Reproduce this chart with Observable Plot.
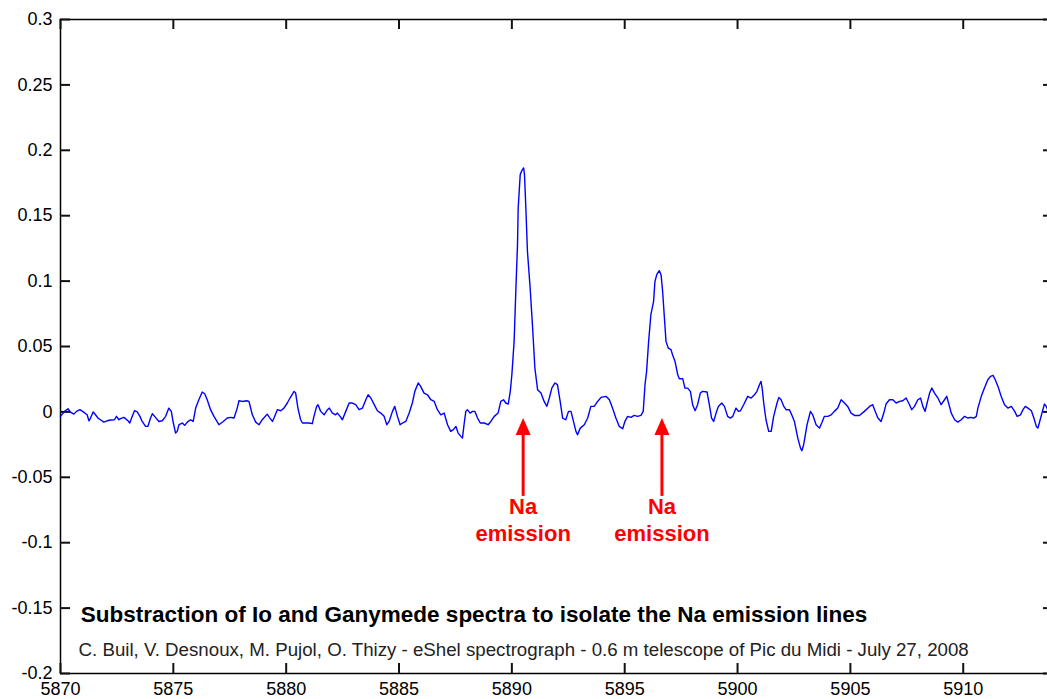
<!DOCTYPE html>
<html>
<head>
<meta charset="utf-8">
<script src="https://cdn.jsdelivr.net/npm/d3@7"></script>
<script src="https://cdn.jsdelivr.net/npm/@observablehq/plot@0.6"></script>
<style>
  html, body { margin: 0; padding: 0; background: #fff; overflow: hidden; }
  svg { display: block; }
</style>
</head>
<body>
<div id="chart"></div>
<script>
// Spectrum (wavelength in Å, relative flux)
const spectrumPart1 = [
  [5870.00,-0.0034],[5870.18,0.0004],[5870.33,0.0024],[5870.44,-0.0001],[5870.59,-0.0017],[5870.71,0.0004],
  [5870.86,0.0017],[5871.01,0.0000],[5871.18,-0.0022],[5871.26,-0.0068],[5871.33,-0.0047],[5871.45,0.0000],
  [5871.55,-0.0022],[5871.66,-0.0047],[5871.77,-0.0060],[5871.92,-0.0078],[5872.07,-0.0068],[5872.22,-0.0062],
  [5872.39,-0.0060],[5872.48,-0.0034],[5872.59,-0.0060],[5872.66,-0.0052],[5872.81,-0.0042],[5872.99,-0.0068],
  [5873.07,-0.0085],[5873.18,-0.0034],[5873.28,0.0009],[5873.40,0.0000],[5873.52,-0.0034],[5873.62,-0.0073],
  [5873.77,-0.0111],[5873.87,-0.0111],[5873.99,-0.0047],[5874.07,-0.0014],[5874.21,-0.0042],[5874.36,-0.0073],
  [5874.51,-0.0068],[5874.66,-0.0034],[5874.80,0.0029],[5874.91,0.0004],[5875.00,-0.0085],[5875.10,-0.0162],
  [5875.17,-0.0149],[5875.25,-0.0098],[5875.40,-0.0085],[5875.50,-0.0103],[5875.62,-0.0078],[5875.76,-0.0060],
  [5875.88,-0.0073],[5875.99,0.0029],[5876.13,0.0093],[5876.28,0.0152],[5876.39,0.0139],[5876.50,0.0093],
  [5876.65,0.0017],[5876.80,-0.0034],[5877.02,-0.0098],[5877.21,-0.0073],[5877.39,-0.0047],[5877.54,-0.0042],
  [5877.69,-0.0047],[5877.83,0.0029],[5877.91,0.0085],[5878.06,0.0080],[5878.25,0.0085],[5878.35,0.0080],
  [5878.50,-0.0022],[5878.65,-0.0078],[5878.80,-0.0098],[5878.94,-0.0060],[5879.16,-0.0017],[5879.28,-0.0047],
  [5879.39,-0.0073],[5879.46,-0.0047],[5879.61,0.0017],[5879.76,0.0009],[5879.90,0.0029],[5880.05,0.0068],
  [5880.17,0.0106]
];
const spectrumPart2 = [
  [5880.35,0.0157],[5880.42,0.0144],[5880.52,0.0029],[5880.64,-0.0060],[5880.72,-0.0085],[5880.86,-0.0085],
  [5881.01,-0.0085],[5881.16,-0.0090],[5881.23,-0.0034],[5881.35,0.0042],[5881.41,0.0055],[5881.53,0.0004],
  [5881.68,-0.0022],[5881.83,0.0017],[5881.91,0.0029],[5882.05,-0.0009],[5882.19,-0.0022],[5882.27,-0.0009],
  [5882.39,-0.0034],[5882.49,-0.0060],[5882.64,0.0004],[5882.79,0.0068],[5882.93,0.0068],[5883.08,0.0055],
  [5883.23,0.0017],[5883.38,0.0029],[5883.53,0.0093],[5883.63,0.0131],[5883.75,0.0106],[5883.89,0.0060],
  [5884.04,0.0009],[5884.19,-0.0009],[5884.34,-0.0034],[5884.46,-0.0098],[5884.56,-0.0073],[5884.71,0.0004],
  [5884.81,0.0042],[5884.93,-0.0034],[5885.05,-0.0098],[5885.15,-0.0085],[5885.30,-0.0073],[5885.45,-0.0009],
  [5885.59,0.0068],[5885.70,0.0157],[5885.85,0.0221],[5885.96,0.0195],[5886.11,0.0144],[5886.26,0.0131],
  [5886.41,0.0093],[5886.56,0.0080],[5886.70,0.0017],[5886.85,-0.0022],[5887.00,-0.0009],[5887.15,-0.0098],
  [5887.29,-0.0149],[5887.41,-0.0136],[5887.52,-0.0111],[5887.62,-0.0162],[5887.74,-0.0187],[5887.81,-0.0200],
  [5887.89,-0.0085],[5887.96,0.0004],[5888.03,0.0017],[5888.15,-0.0009],[5888.26,0.0004],[5888.36,0.0004],
  [5888.48,-0.0047],[5888.60,-0.0085],[5888.77,-0.0085],[5888.95,-0.0098],[5889.07,-0.0073],[5889.22,-0.0034],
  [5889.39,-0.0009],[5889.51,0.0080],[5889.63,0.0093],[5889.73,0.0068],[5889.84,0.0060],[5889.93,0.0157],
  [5890.00,0.0284],[5890.04,0.0386]
];
const spectrumPart3 = [
  [5890.10,0.0539],[5890.18,0.0947],[5890.25,0.1279],[5890.28,0.1559],[5890.37,0.1814],[5890.43,0.1840],
  [5890.52,0.1865],[5890.56,0.1814],[5890.62,0.1559],[5890.69,0.1228],[5890.81,0.0947],[5890.92,0.0641],
  [5891.02,0.0335],[5891.14,0.0170],[5891.29,0.0144],[5891.43,0.0080],[5891.55,0.0042],[5891.66,0.0106],
  [5891.77,0.0182],[5891.91,0.0221],[5892.02,0.0208],[5892.14,0.0080],[5892.25,-0.0047],[5892.39,-0.0060],
  [5892.51,0.0004],[5892.62,0.0004],[5892.73,-0.0073],[5892.84,-0.0149],[5892.91,-0.0175],[5893.03,-0.0124],
  [5893.21,-0.0098],[5893.36,-0.0047],[5893.50,0.0042],[5893.65,0.0042],[5893.80,0.0080],[5893.95,0.0111],
  [5894.17,0.0119],[5894.32,0.0093],[5894.46,0.0029],[5894.61,-0.0047],[5894.76,-0.0111],[5894.91,-0.0129],
  [5895.01,-0.0073],[5895.13,-0.0034],[5895.28,-0.0042],[5895.42,-0.0027],[5895.57,-0.0034],[5895.72,-0.0027],
  [5895.82,0.0004],[5895.90,0.0208],[5895.97,0.0310],[5896.06,0.0539],[5896.16,0.0743],[5896.28,0.0845],
  [5896.34,0.0998],[5896.43,0.1054],[5896.53,0.1080],[5896.61,0.1049],[5896.68,0.0922],[5896.75,0.0743],
  [5896.83,0.0539],[5896.93,0.0488],[5897.05,0.0476],[5897.12,0.0437],[5897.23,0.0386],[5897.35,0.0284],
  [5897.42,0.0254],[5897.57,0.0254],[5897.67,0.0182],[5897.79,0.0182],[5897.91,0.0157],[5898.01,0.0055],
  [5898.12,0.0009],[5898.23,0.0055],[5898.35,0.0144],[5898.45,0.0157],[5898.65,0.0152],[5898.75,0.0055],
  [5898.85,-0.0047],[5898.94,-0.0073],[5899.05,-0.0009],[5899.15,0.0042],[5899.30,0.0068],[5899.42,0.0042],
  [5899.56,-0.0034],[5899.68,-0.0047]
];
const spectrumPart4 = [
  [5899.79,-0.0034],[5899.93,0.0029],[5900.04,0.0004],[5900.13,0.0009],[5900.27,0.0055],[5900.45,0.0119],
  [5900.60,0.0106],[5900.75,0.0131],[5900.86,0.0157],[5900.97,0.0208],[5901.04,0.0233],[5901.09,0.0182],
  [5901.16,0.0068],[5901.26,-0.0060],[5901.38,-0.0149],[5901.49,-0.0149],[5901.60,-0.0034],[5901.75,0.0068],
  [5901.83,0.0111],[5901.93,0.0093],[5902.05,0.0042],[5902.15,0.0017],[5902.30,0.0017],[5902.40,-0.0022],
  [5902.52,-0.0073],[5902.67,-0.0200],[5902.79,-0.0277],[5902.85,-0.0297],[5902.93,-0.0251],[5903.08,-0.0098],
  [5903.23,0.0004],[5903.33,-0.0022],[5903.48,-0.0098],[5903.63,-0.0124],[5903.73,-0.0085],[5903.85,-0.0034],
  [5904.00,-0.0034],[5904.15,-0.0022],[5904.29,0.0004],[5904.44,0.0029],[5904.59,0.0093],[5904.74,0.0068],
  [5904.88,0.0042],[5905.03,-0.0009],[5905.18,-0.0027],[5905.40,-0.0027],[5905.62,0.0004],[5905.85,0.0042],
  [5905.99,0.0055],[5906.07,0.0017],[5906.22,-0.0047],[5906.36,-0.0073],[5906.48,-0.0009],[5906.58,0.0060],
  [5906.73,0.0093],[5906.88,0.0093],[5907.03,0.0068],[5907.18,0.0080],[5907.32,0.0085],[5907.47,0.0106],
  [5907.62,0.0055],[5907.72,0.0017],[5907.84,0.0042],[5907.99,0.0093],[5908.11,0.0106],[5908.21,0.0042],
  [5908.31,0.0004],[5908.40,0.0068],[5908.51,0.0144],[5908.61,0.0182],[5908.73,0.0144],[5908.88,0.0106],
  [5909.02,0.0055],[5909.17,0.0093],[5909.27,0.0119],[5909.35,0.0068],[5909.47,-0.0009],[5909.62,-0.0060],
  [5909.76,-0.0078],[5909.91,-0.0060],[5910.06,-0.0034],[5910.21,-0.0047],[5910.32,-0.0042],[5910.47,-0.0047],
  [5910.58,-0.0034],[5910.65,0.0029],[5910.80,0.0119],[5910.94,0.0182],[5911.09,0.0246],[5911.21,0.0272],
  [5911.32,0.0279],[5911.42,0.0246],[5911.54,0.0195],[5911.68,0.0119],[5911.83,0.0055],[5911.98,0.0029],
  [5912.13,0.0042],[5912.28,0.0004],[5912.39,-0.0034],[5912.54,-0.0022],[5912.65,0.0017],[5912.75,0.0042],
  [5912.87,0.0029],[5913.02,0.0009],[5913.13,-0.0047],[5913.24,-0.0111],[5913.31,-0.0124],[5913.43,-0.0047],
  [5913.53,0.0017],[5913.60,0.0060],[5913.68,0.0042],[5913.77,0.0004]
];

const xTicks = [5870, 5875, 5880, 5885, 5890, 5895, 5900, 5905, 5910];
const xTickLabels = ["5870", "5875", "5880", "5885", "5890", "5895", "5900", "5905", "5910"];
const yTicks = [-0.2, -0.15, -0.1, -0.05, 0, 0.05, 0.1, 0.15, 0.2, 0.25, 0.3];
const yTickLabels = ["-0.2", "-0.15", "-0.1", "-0.05", "0", "0.05", "0.1", "0.15", "0.2", "0.25", "0.3"];
const xDomain = [5870, 5914];
const yDomain = [-0.2, 0.3];

// Na D emission annotations (wavelength of each arrow)
const naLineWavelengths = [5890.5, 5896.65];
const naLabelLine1 = "Na";
const naLabelLine2 = "emission";

const titleText = "Substraction of Io and Ganymede spectra to isolate the Na emission lines";
const creditText = "C. Buil, V. Desnoux, M. Pujol, O. Thizy - eShel spectrograph - 0.6 m telescope of Pic du Midi - July 27, 2008";

const spectrum = [...spectrumPart1, ...spectrumPart2, ...spectrumPart3, ...spectrumPart4]
  .map(([wavelength, flux]) => ({wavelength, flux}));

// layout (pixels)
const W = 1047, H = 699, ML = 60, MR = -6, MT = 19, MB = 26;
const plotW = W - ML - MR, plotH = H - MT - MB, TICK = 10;

const arrowHead = {draw(c) { c.moveTo(0, 0); c.lineTo(7.5, 17); c.lineTo(-7.5, 17); c.closePath(); }};

const FONT = "'Liberation Sans', Arial, Helvetica, sans-serif";

const chart = Plot.plot({
  width: W,
  height: H,
  marginLeft: ML,
  marginRight: MR,
  marginTop: MT,
  marginBottom: MB,
  style: {fontFamily: FONT, fontSize: "18px", color: "#000", background: "#fff"},
  x: {domain: xDomain},
  y: {domain: yDomain},
  marks: [
    Plot.frame({stroke: "#000", strokeWidth: 1.5}),
    // tick labels
    Plot.axisX(xTicks, {anchor: "bottom", tickSize: 0, tickPadding: 9, fontSize: 18, fill: "#000", label: null,
      tickFormat: d => xTickLabels[xTicks.indexOf(d)]}),
    Plot.axisY(yTicks, {anchor: "left", tickSize: 0, tickPadding: 8, fontSize: 18, fill: "#000", label: null,
      tickFormat: d => yTickLabels[yTicks.indexOf(d)]}),
    // inward tick marks (MATLAB style) on all four sides
    Plot.ruleX(xTicks, {x: d => d, insetTop: plotH - TICK, stroke: "#111", strokeWidth: 2}),
    Plot.ruleX(xTicks, {x: d => d, insetBottom: plotH - TICK, stroke: "#111", strokeWidth: 2}),
    Plot.ruleY(yTicks, {y: d => d, insetRight: plotW - TICK, stroke: "#111", strokeWidth: 2}),
    Plot.ruleY(yTicks, {y: d => d, insetLeft: plotW - TICK, stroke: "#111", strokeWidth: 2}),
    Plot.line(spectrum, {x: "wavelength", y: "flux", stroke: "#0000ff", strokeWidth: 1.4}),
    // arrows
    Plot.ruleX(naLineWavelengths, {x: d => d, y1: -0.0646, y2: -0.016, stroke: "#ff0000", strokeWidth: 3}),
    Plot.dot(naLineWavelengths, {x: d => d, y: -0.0047, symbol: arrowHead, fill: "#ff0000", stroke: "none", r: 8}),
    Plot.text(naLineWavelengths, {x: d => d, y: -0.0784, text: () => naLabelLine1, fill: "#ff0000",
      fontWeight: "bold", fontSize: 22, lineAnchor: "bottom"}),
    Plot.text(naLineWavelengths, {x: d => d, y: -0.099, text: () => naLabelLine2, fill: "#ff0000",
      fontWeight: "bold", fontSize: 22, lineAnchor: "bottom"}),
    // in-plot title and credit line
    Plot.text([titleText], {x: 5870.9, y: -0.1606, text: d => d, textAnchor: "start", lineAnchor: "bottom",
      fontWeight: "bold", fontSize: 22.5, fill: "#000"}),
    Plot.text([creditText], {x: 5870.8, y: -0.187, text: d => d, textAnchor: "start", lineAnchor: "bottom",
      fontSize: 18.7, fill: "#222"})
  ]
});
document.getElementById("chart").appendChild(chart);
</script>
</body>
</html>
